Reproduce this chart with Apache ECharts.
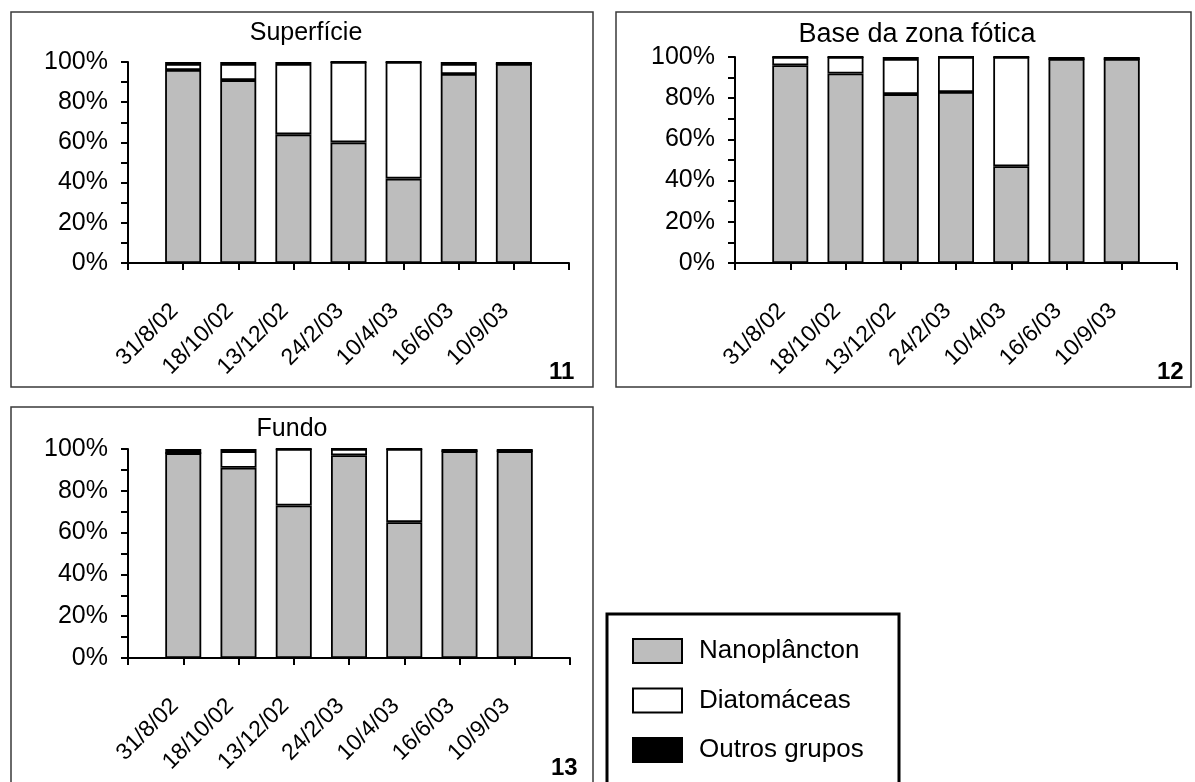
<!DOCTYPE html>
<html>
<head>
<meta charset="utf-8">
<title>Composição do fitoplâncton</title>
<script src="https://cdn.jsdelivr.net/npm/echarts@6/dist/echarts.min.js"></script>
<style>
  html, body { margin: 0; padding: 0; background: #fff; }
  #chart { width: 1195px; height: 782px; }
</style>
</head>
<body>
<div id="chart"></div>
<script>
// Sampling dates (x-axis categories)
const categories = ['31/8/02', '18/10/02', '13/12/02', '24/2/03', '10/4/03', '16/6/03', '10/9/03'];
// Y-axis tick labels (every 20 %)
const yTickLabels = ['0%', '20%', '40%', '60%', '80%', '100%'];
// Series names
const seriesNames = ['Nanoplâncton', 'Diatomáceas', 'Outros grupos'];

// Relative abundance (%) — Superfície
const superficieNano = [96, 91, 64, 60, 42, 94, 99];
const superficieDiat = [3, 8, 35, 40, 58, 5, 0];
const superficieOutros = [1, 1, 1, 0, 0, 1, 1];

// Relative abundance (%) — Base da zona fótica
const baseNano = [96, 92, 82, 83, 47, 99, 99];
const baseDiat = [4, 8, 17, 17, 53, 0, 0];
const baseOutros = [0, 0, 1, 0, 0, 1, 1];

// Relative abundance (%) — Fundo
const fundoNano = [98, 91, 73, 97, 65, 99, 99];
const fundoDiat = [0, 8, 27, 3, 35, 0, 0];
const fundoOutros = [2, 1, 0, 0, 0, 1, 1];

const FONT = 'Liberation Sans, Arial, Helvetica, sans-serif';
const fills = ['#bdbdbd', '#ffffff', '#000000'];

// Axis has an empty slot before and after the dates
const axisCats = [''].concat(categories, ['']);
const pad = arr => ['-'].concat(arr, ['-']);

const panels = [
  { title: 'Superfície', titleSize: 25, num: '11', titlePos: [306, 33], numPos: [549, 360],
    grid: { left: 128, top: 62, width: 441, height: 201 },
    data: [superficieNano, superficieDiat, superficieOutros] },
  { title: 'Base da zona fótica', titleSize: 27, num: '12', titlePos: [917, 35], numPos: [1157, 360],
    grid: { left: 735, top: 57, width: 442, height: 206 },
    data: [baseNano, baseDiat, baseOutros] },
  { title: 'Fundo', titleSize: 25, num: '13', titlePos: [292, 429], numPos: [551, 756],
    grid: { left: 128, top: 449, width: 442, height: 209 },
    data: [fundoNano, fundoDiat, fundoOutros] }
];

const grids = [], xAxes = [], yAxes = [], series = [], texts = [];

panels.forEach((p, i) => {
  grids.push(Object.assign({ containLabel: false }, p.grid));
  xAxes.push({
    type: 'category', gridIndex: i, data: axisCats, boundaryGap: false,
    axisLine: { lineStyle: { color: '#000', width: 2 } },
    axisTick: { show: true, interval: 0, length: 7, lineStyle: { color: '#000', width: 2 } },
    axisLabel: {
      interval: 0, rotate: 45, color: '#000', fontFamily: FONT, fontSize: 23, margin: 36,
      padding: [0, 12, 16, 0]
    },
    splitLine: { show: false }
  });
  yAxes.push({
    type: 'value', gridIndex: i, min: 0, max: 100, interval: 10,
    axisLine: { show: true, lineStyle: { color: '#000', width: 2 } },
    axisTick: { show: true, length: 7, lineStyle: { color: '#000', width: 2 } },
    axisLabel: {
      color: '#000', fontFamily: FONT, fontSize: 25, margin: 20,
      formatter: v => (v % 20 === 0 ? yTickLabels[v / 20] : '')
    },
    splitLine: { show: false }
  });
  p.data.forEach((vals, k) => {
    series.push({
      name: seriesNames[k], type: 'bar', xAxisIndex: i, yAxisIndex: i,
      stack: 'painel' + i, barWidth: 36, data: pad(vals),
      itemStyle: { color: fills[k], borderColor: '#000', borderWidth: 1.8 },
      emphasis: { disabled: true }
    });
  });
  // panel title
  texts.push({
    type: 'text', x: p.titlePos[0], y: p.titlePos[1], silent: true,
    style: { text: p.title, fontFamily: FONT, fontSize: p.titleSize, fill: '#000',
             textAlign: 'center', textVerticalAlign: 'middle' }
  });
  // panel number
  texts.push({
    type: 'text', x: p.numPos[0], y: p.numPos[1], silent: true,
    style: { text: p.num, fontFamily: FONT, fontSize: 24, fontWeight: 'bold', fill: '#000' }
  });
});

const chart = echarts.init(document.getElementById('chart'), null, { renderer: 'canvas' });

const boxStyle = { fill: 'none', stroke: '#3a3a3a', lineWidth: 1.5 };

chart.setOption({
  backgroundColor: '#ffffff',
  animation: false,
  grid: grids,
  xAxis: xAxes,
  yAxis: yAxes,
  series: series,
  legend: {
    data: seriesNames, orient: 'vertical', left: 632, top: 638,
    itemWidth: 49, itemHeight: 24, itemGap: 23.5, padding: 0, selectedMode: false,
    icon: 'rect',
    itemStyle: { borderColor: '#000', borderWidth: 2 },
    textStyle: { fontFamily: FONT, fontSize: 26, lineHeight: 24, color: '#000', padding: [0, 0, 0, 12] }
  },
  graphic: [
    { type: 'rect', shape: { x: 11, y: 12, width: 582, height: 375 }, style: boxStyle, silent: true },
    { type: 'rect', shape: { x: 616, y: 12, width: 575, height: 375 }, style: boxStyle, silent: true },
    { type: 'rect', shape: { x: 11, y: 407, width: 582, height: 390 }, style: boxStyle, silent: true },
    { type: 'rect', shape: { x: 607, y: 614, width: 292, height: 190 },
      style: { fill: 'none', stroke: '#000', lineWidth: 3 }, silent: true }
  ].concat(texts)
});
</script>
</body>
</html>
